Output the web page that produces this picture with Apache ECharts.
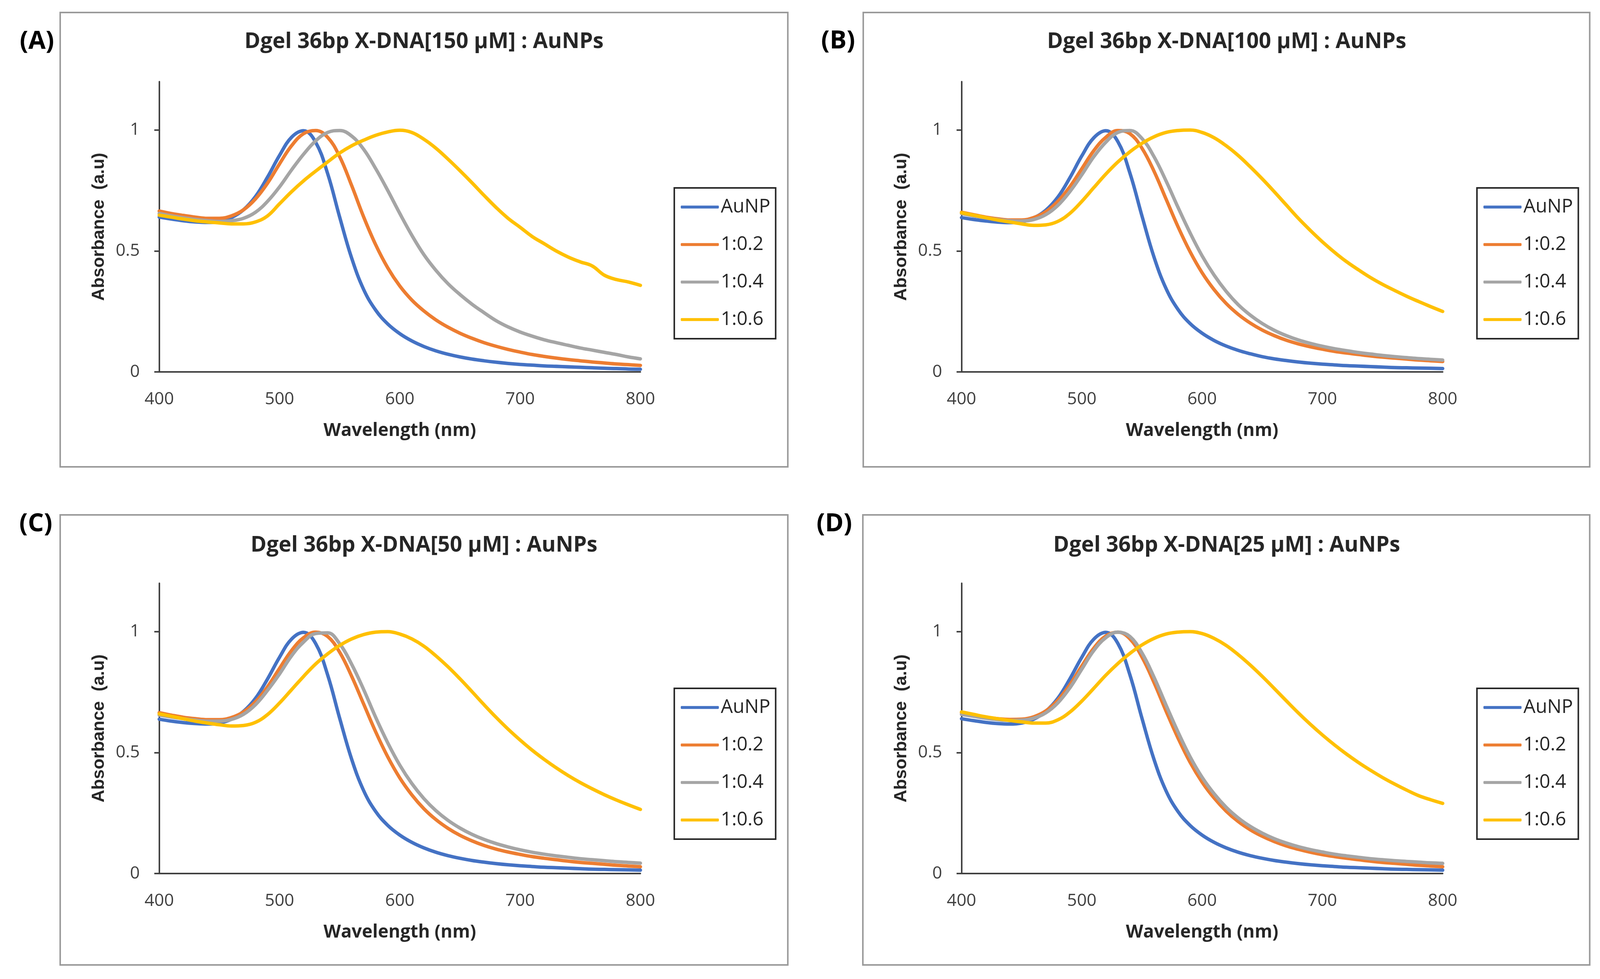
<!DOCTYPE html>
<html>
<head>
<meta charset="utf-8">
<script src="https://cdn.jsdelivr.net/npm/echarts@6/dist/echarts.min.js"></script>
<style>
html,body{margin:0;padding:0;background:#fff;overflow:hidden;}
#chart{width:100vw;height:100vh;}
</style>
</head>
<body>
<div id="chart"></div>
<script>
// Wavelength grid (nm)
const wavelengths = [400,410,420,430,440,450,460,470,480,490,500,510,520,530,540,550,560,570,580,590,600,610,620,630,640,650,660,670,680,690,700,710,720,730,740,750,760,770,780,790,800];

const seriesNames = ['AuNP', '1:0.2', '1:0.4', '1:0.6'];
const panelTitles = ['Dgel 36bp X-DNA[150 μM] : AuNPs', 'Dgel 36bp X-DNA[100 μM] : AuNPs', 'Dgel 36bp X-DNA[50 μM] : AuNPs', 'Dgel 36bp X-DNA[25 μM] : AuNPs'];
const panelLabels = ['(A)', '(B)', '(C)', '(D)'];
const xTicks = [400, 500, 600, 700, 800];
const yTicks = [0, 0.5, 1];

// Panel A (150 µM)
const A_AuNP = [0.640,0.632,0.625,0.620,0.618,0.622,0.638,0.670,0.725,0.805,0.895,0.970,0.997,0.950,0.820,0.640,0.470,0.340,0.255,0.198,0.158,0.128,0.105,0.087,0.073,0.062,0.053,0.046,0.040,0.035,0.031,0.028,0.025,0.023,0.021,0.019,0.017,0.015,0.014,0.012,0.011];
const A_r02 = [0.665,0.655,0.647,0.640,0.635,0.635,0.645,0.670,0.715,0.780,0.860,0.935,0.985,0.998,0.970,0.890,0.770,0.640,0.525,0.430,0.355,0.297,0.252,0.215,0.185,0.160,0.139,0.121,0.106,0.093,0.082,0.072,0.064,0.057,0.051,0.046,0.041,0.037,0.033,0.030,0.027];
const A_r04 = [0.655,0.645,0.637,0.630,0.625,0.622,0.625,0.635,0.660,0.705,0.765,0.835,0.900,0.955,0.990,0.998,0.975,0.920,0.840,0.750,0.655,0.565,0.485,0.420,0.365,0.320,0.280,0.245,0.212,0.186,0.165,0.148,0.133,0.121,0.110,0.099,0.090,0.081,0.072,0.062,0.054];
const A_r06 = [0.648,0.640,0.632,0.625,0.620,0.616,0.612,0.612,0.620,0.645,0.695,0.745,0.790,0.830,0.868,0.905,0.935,0.958,0.978,0.992,0.999,0.990,0.962,0.925,0.880,0.832,0.782,0.730,0.680,0.635,0.598,0.560,0.530,0.500,0.475,0.455,0.438,0.400,0.382,0.372,0.358];

// Panel B (100 µM)
const B_AuNP = [0.638,0.630,0.624,0.619,0.617,0.621,0.637,0.668,0.722,0.802,0.893,0.968,0.997,0.952,0.822,0.645,0.475,0.345,0.258,0.200,0.160,0.130,0.107,0.089,0.075,0.063,0.054,0.047,0.041,0.036,0.032,0.029,0.026,0.024,0.022,0.020,0.018,0.017,0.016,0.015,0.014];
const B_r02 = [0.660,0.650,0.640,0.633,0.628,0.628,0.638,0.662,0.705,0.765,0.840,0.915,0.970,0.998,0.985,0.925,0.830,0.715,0.600,0.497,0.410,0.340,0.283,0.238,0.202,0.173,0.150,0.131,0.116,0.104,0.094,0.085,0.078,0.072,0.066,0.061,0.057,0.053,0.049,0.046,0.043];
const B_r04 = [0.655,0.645,0.637,0.630,0.625,0.624,0.630,0.650,0.688,0.745,0.815,0.890,0.950,0.990,0.998,0.965,0.890,0.790,0.680,0.575,0.480,0.400,0.333,0.278,0.235,0.200,0.172,0.150,0.132,0.118,0.106,0.096,0.088,0.080,0.074,0.068,0.063,0.059,0.055,0.052,0.049];
const B_r06 = [0.658,0.648,0.638,0.628,0.620,0.612,0.606,0.608,0.622,0.655,0.705,0.762,0.818,0.868,0.910,0.945,0.972,0.990,0.998,1.000,0.990,0.968,0.935,0.895,0.848,0.798,0.745,0.690,0.635,0.585,0.538,0.495,0.456,0.422,0.390,0.362,0.337,0.313,0.291,0.270,0.250];

// Panel C (50 µM)
const C_AuNP = [0.638,0.630,0.624,0.620,0.618,0.622,0.638,0.670,0.724,0.804,0.894,0.969,0.997,0.951,0.821,0.642,0.472,0.342,0.256,0.199,0.159,0.129,0.106,0.088,0.074,0.063,0.054,0.047,0.041,0.036,0.032,0.029,0.026,0.024,0.022,0.020,0.018,0.017,0.016,0.015,0.014];
const C_r02 = [0.665,0.655,0.646,0.640,0.636,0.636,0.645,0.668,0.710,0.772,0.848,0.922,0.975,0.998,0.980,0.915,0.815,0.700,0.585,0.482,0.395,0.325,0.268,0.223,0.187,0.158,0.135,0.116,0.101,0.089,0.079,0.070,0.063,0.057,0.051,0.046,0.042,0.038,0.034,0.031,0.028];
const C_r04 = [0.655,0.647,0.640,0.634,0.630,0.630,0.637,0.658,0.698,0.757,0.825,0.900,0.957,0.992,0.995,0.950,0.865,0.760,0.645,0.540,0.448,0.372,0.310,0.260,0.220,0.188,0.162,0.141,0.124,0.110,0.098,0.088,0.080,0.073,0.067,0.061,0.057,0.053,0.049,0.046,0.043];
const C_r06 = [0.660,0.650,0.640,0.630,0.622,0.615,0.610,0.612,0.625,0.657,0.705,0.760,0.815,0.866,0.908,0.943,0.970,0.988,0.998,1.000,0.990,0.970,0.940,0.900,0.855,0.805,0.752,0.698,0.646,0.597,0.552,0.510,0.472,0.437,0.405,0.376,0.350,0.326,0.304,0.284,0.265];

// Panel D (25 µM)
const D_AuNP = [0.640,0.632,0.625,0.620,0.618,0.622,0.638,0.670,0.724,0.804,0.894,0.969,0.997,0.951,0.821,0.642,0.472,0.342,0.256,0.199,0.159,0.129,0.106,0.088,0.074,0.063,0.054,0.047,0.041,0.036,0.032,0.029,0.026,0.024,0.022,0.020,0.018,0.017,0.016,0.015,0.014];
const D_r02 = [0.665,0.655,0.646,0.640,0.637,0.638,0.648,0.672,0.716,0.780,0.858,0.932,0.982,0.998,0.970,0.895,0.790,0.672,0.560,0.460,0.378,0.312,0.258,0.215,0.181,0.154,0.132,0.114,0.100,0.088,0.078,0.070,0.063,0.057,0.051,0.046,0.042,0.038,0.034,0.031,0.028];
const D_r04 = [0.658,0.650,0.642,0.636,0.633,0.634,0.642,0.664,0.705,0.767,0.845,0.922,0.975,0.998,0.980,0.912,0.812,0.697,0.585,0.483,0.398,0.330,0.274,0.230,0.195,0.167,0.144,0.126,0.111,0.099,0.089,0.080,0.073,0.067,0.061,0.057,0.053,0.050,0.047,0.044,0.042];
const D_r06 = [0.668,0.658,0.648,0.640,0.633,0.627,0.622,0.622,0.635,0.667,0.713,0.766,0.820,0.868,0.910,0.945,0.972,0.990,0.998,1.000,0.992,0.972,0.943,0.905,0.862,0.815,0.765,0.714,0.664,0.617,0.573,0.532,0.494,0.459,0.427,0.397,0.370,0.345,0.322,0.305,0.290];

const panelSeries = [
  [A_AuNP, A_r02, A_r04, A_r06],
  [B_AuNP, B_r02, B_r04, B_r06],
  [C_AuNP, C_r02, C_r04, C_r06],
  [D_AuNP, D_r02, D_r04, D_r06]
];

const colors = ['#4472C4', '#ED7D31', '#A5A5A5', '#FFC000'];

const el = document.getElementById('chart');
const chart = echarts.init(el, null, {renderer: 'canvas'});
const W = chart.getWidth(), H = chart.getHeight();
const sx = W / 4200, sy = H / 2506, sf = Math.min(sx, sy);
const X = v => v * sx, Y = v => v * sy, F = v => v * sf;

// Layout in 4200x2506 design pixels, scaled to the actual viewport
const grids = [
  {left: 418, top: 209, width: 1263, height: 743},
  {left: 2524, top: 209, width: 1263, height: 743},
  {left: 418, top: 1493, width: 1263, height: 743},
  {left: 2524, top: 1493, width: 1263, height: 743}
];
const frames = [
  {x: 158, y: 32, w: 1910, h: 1163},
  {x: 2266, y: 32, w: 1907, h: 1163},
  {x: 158, y: 1318, w: 1910, h: 1152},
  {x: 2265, y: 1318, w: 1908, h: 1152}
];
const titlePos = [[1113, 80], [3220, 80], [1113, 1369], [3220, 1369]];
const labelPos = [[97, 107], [2200, 106], [94, 1342], [2190, 1342]];
const legendPos = [[1770, 481], [3877, 481], [1770, 1762], [3877, 1762]];

const FONT = "'Open Sans', 'Liberation Sans', sans-serif";
const AXC = '#404040';

const option = {
  backgroundColor: '#ffffff',
  animation: false,
  color: colors,
  title: panelTitles.map((t, i) => ({
    text: t,
    left: X(titlePos[i][0]),
    top: Y(titlePos[i][1]),
    textAlign: 'center',
    padding: 0,
    textStyle: {fontFamily: FONT, fontWeight: 'bold', fontSize: F(56.5), color: '#262626'}
  })),
  legend: legendPos.map((p, i) => ({
    data: seriesNames,
    orient: 'vertical',
    left: X(p[0]),
    top: Y(p[1]),
    padding: [Y(24), X(14), Y(24), X(17)],
    itemGap: Y(46),
    itemWidth: X(100),
    itemHeight: F(7.5),
    icon: 'roundRect',
    borderColor: '#262626',
    borderWidth: F(4),
    textStyle: {fontFamily: FONT, fontSize: F(50), color: '#262626', lineHeight: Y(50)}
  })),
  grid: grids.map(g => ({left: X(g.left), top: Y(g.top), width: X(g.width), height: Y(g.height), containLabel: false})),
  xAxis: grids.map((g, i) => ({
    type: 'value',
    gridIndex: i,
    min: 400,
    max: 800,
    interval: 100,
    name: 'Wavelength (nm)',
    nameLocation: 'middle',
    nameGap: Y(128),
    nameTextStyle: {fontFamily: FONT, fontWeight: 'bold', fontSize: F(47), color: '#262626'},
    axisLine: {show: true, lineStyle: {color: AXC, width: F(4)}},
    axisTick: {show: false},
    splitLine: {show: false},
    axisLabel: {fontFamily: FONT, fontSize: F(45), color: AXC, margin: Y(48), customValues: xTicks}
  })),
  yAxis: grids.map((g, i) => ({
    type: 'value',
    gridIndex: i,
    min: 0,
    max: 1.2,
    interval: 0.5,
    name: 'Absorbance  (a.u)',
    nameLocation: 'middle',
    nameGap: X(135),
    nameTextStyle: {fontFamily: "'Liberation Sans', Arial, sans-serif", fontWeight: 'bold', fontSize: F(46), color: '#262626'},
    axisLine: {show: true, lineStyle: {color: AXC, width: F(4)}},
    axisTick: {show: true, inside: false, length: X(13), lineStyle: {color: AXC, width: F(4)}, customValues: yTicks},
    splitLine: {show: false},
    axisLabel: {fontFamily: FONT, fontSize: F(45), color: AXC, margin: X(51), customValues: yTicks}
  })),
  series: [],
  graphic: []
};

panelSeries.forEach((set, p) => {
  set.forEach((vals, s) => {
    option.series.push({
      type: 'line',
      name: seriesNames[s],
      xAxisIndex: p,
      yAxisIndex: p,
      data: wavelengths.map((w, k) => [w, vals[k]]),
      showSymbol: false,
      symbol: 'none',
      smooth: 0.4,
      lineStyle: {width: F(9), color: colors[s], cap: 'round', join: 'round'},
      itemStyle: {color: colors[s]},
      z: 2 + s
    });
  });
});

frames.forEach(f => {
  option.graphic.push({
    type: 'rect',
    shape: {x: X(f.x), y: Y(f.y), width: X(f.w), height: Y(f.h)},
    style: {fill: 'none', stroke: '#9a9a9a', lineWidth: F(4)},
    silent: true,
    z: -10
  });
});
panelLabels.forEach((t, i) => {
  option.graphic.push({
    type: 'text',
    x: X(labelPos[i][0]),
    y: Y(labelPos[i][1]),
    style: {text: t, fontFamily: FONT, fontWeight: 'bold', fontSize: F(66), fill: '#000', textAlign: 'center', textVerticalAlign: 'middle'},
    silent: true
  });
});

chart.setOption(option);
</script>
</body>
</html>
